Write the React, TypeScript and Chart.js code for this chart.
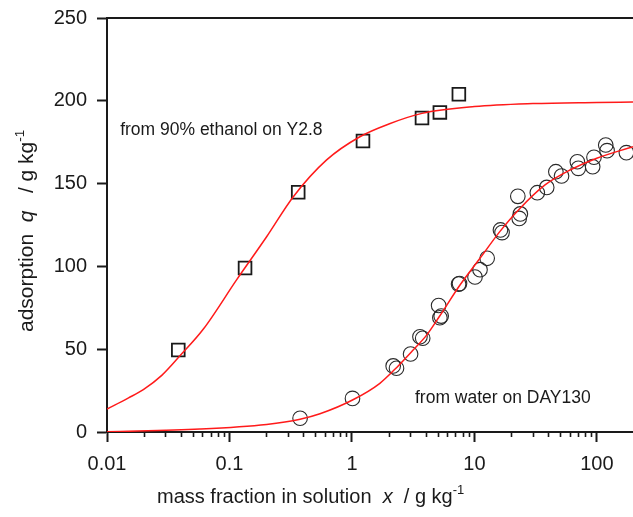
import { useEffect, useRef } from 'react';
import { Chart, registerables } from 'chart.js';

Chart.register(...registerables);

// ---- data ----
const ethanolX = [0.0382, 0.134, 0.364, 1.23, 3.73, 5.22, 7.46];
const ethanolQ = [49.5, 99, 144.8, 175.7, 189.6, 193, 204];

const waterX = [0.377, 1.01, 2.17, 2.31, 3.01, 3.59, 3.78, 5.1, 5.22, 5.35, 7.42, 7.55, 10.1, 11.1, 12.7, 16.3, 16.8, 22.6, 23.2, 23.7, 32.6, 38.9, 46.2, 51.4, 69.2, 70.5, 92.3, 94.6, 118, 121, 174];
const waterQ = [8.3, 20.3, 39.9, 38.5, 47.1, 57.5, 56.6, 76.4, 69.0, 70.0, 89.3, 89.6, 93.6, 98.0, 104.9, 122, 120.4, 142.3, 129.0, 131.7, 144.5, 147.7, 157.2, 154.6, 163.2, 159.2, 160.2, 165.9, 173.3, 169.9, 168.7];

const ethanolFitX = [0.01, 0.015, 0.0198, 0.028, 0.0394, 0.061, 0.1146, 0.201, 0.332, 0.621, 1.16, 2.0, 3.73, 10, 30, 100, 197];
const ethanolFitQ = [13.9, 20.6, 25.6, 34.2, 46.0, 62.0, 92.0, 117.9, 142.1, 164.3, 178.3, 186, 192.4, 196.5, 198.3, 199, 199.3];

const waterFitX = [0.01, 0.0574, 0.201, 0.377, 0.548, 1.01, 1.69, 2.32, 3.16, 4.07, 5.22, 7.62, 11.1, 16.1, 23.5, 37.7, 60.3, 99.6, 197];
const waterFitQ = [0.2, 1.8, 4.6, 7.7, 11.0, 19.3, 29.4, 39, 49.5, 58.5, 70.2, 88.8, 104.9, 121, 135, 149.2, 158.2, 165.3, 172.3];

const xMajorTicks = [0.01, 0.1, 1, 10, 100];
const xMinorMultipliers = [2, 3, 4, 5, 6, 7, 8, 9];
const yTickValues = [0, 50, 100, 150, 200, 250];
const X_MIN = 0.01;
const X_MAX = 197;
const Y_MIN = 0;
const Y_MAX = 250;

const ethanolLabel = 'from 90% ethanol on Y2.8';
const ethanolLabelAt = [0.0128, 182];
const waterLabel = 'from water on DAY130';
const waterLabelAt = [3.27, 20.7];

const FONT = "'Liberation Sans', Arial, Helvetica, sans-serif";
const INK = '#1a1a1a';

const toPoints = (xs: number[], ys: number[]) => xs.map((x, i) => ({ x, y: ys[i] }));

const minorTicks: number[] = [];
xMajorTicks.forEach((d) => {
  xMinorMultipliers.forEach((m) => {
    const v = d * m;
    if (v <= X_MAX) minorTicks.push(v);
  });
});

type Seg = { t: string; font: string; dy?: number };

function drawRich(ctx: CanvasRenderingContext2D, segs: Seg[], x: number, y: number) {
  let cx = x;
  segs.forEach((s) => {
    ctx.font = s.font;
    ctx.fillText(s.t, cx, y + (s.dy || 0));
    cx += ctx.measureText(s.t).width;
  });
}

const decorPlugin = {
  id: 'decor',
  afterDraw(chart: any) {
    const { ctx, chartArea, scales } = chart;
    const xs = scales.x;
    const ys = scales.y;
    ctx.save();
    // top frame line
    ctx.strokeStyle = INK;
    ctx.lineWidth = 2;
    ctx.beginPath();
    ctx.moveTo(chartArea.left - 1, chartArea.top);
    ctx.lineTo(chartArea.right, chartArea.top);
    ctx.stroke();
    // minor ticks
    ctx.lineWidth = 1.6;
    minorTicks.forEach((v) => {
      const px = Math.round(xs.getPixelForValue(v)) + 0.5;
      ctx.beginPath();
      ctx.moveTo(px, chartArea.bottom);
      ctx.lineTo(px, chartArea.bottom + 5);
      ctx.stroke();
    });
    // annotations
    ctx.fillStyle = INK;
    ctx.textBaseline = 'middle';
    ctx.textAlign = 'left';
    ctx.font = `17.5px ${FONT}`;
    ctx.fillText(ethanolLabel, xs.getPixelForValue(ethanolLabelAt[0]), ys.getPixelForValue(ethanolLabelAt[1]));
    ctx.fillText(waterLabel, xs.getPixelForValue(waterLabelAt[0]), ys.getPixelForValue(waterLabelAt[1]));
    // axis titles
    ctx.textBaseline = 'alphabetic';
    drawRich(ctx, [
      { t: 'mass fraction in solution  ', font: `20px ${FONT}` },
      { t: 'x', font: `italic 20px ${FONT}` },
      { t: '  / g kg', font: `20px ${FONT}` },
      { t: '-1', font: `13px ${FONT}`, dy: -9 },
    ], 157, 503);
    ctx.save();
    ctx.translate(33, 332);
    ctx.rotate(-Math.PI / 2);
    drawRich(ctx, [
      { t: 'adsorption  ', font: `21px ${FONT}` },
      { t: 'q', font: `italic 21px ${FONT}` },
      { t: '   / g kg', font: `21px ${FONT}` },
      { t: '-1', font: `13.5px ${FONT}`, dy: -9.5 },
    ], 0, 0);
    ctx.restore();
    ctx.restore();
  },
};

export default function App() {
  const ref = useRef<HTMLCanvasElement>(null);
  useEffect(() => {
    const canvas = ref.current;
    if (!canvas) return;
    Chart.defaults.color = INK;
    const chart = new Chart(canvas, {
      type: 'scatter',
      data: {
        datasets: [
          {
            data: toPoints(ethanolFitX, ethanolFitQ),
            showLine: true,
            borderColor: '#ff1a1a',
            borderWidth: 1.5,
            pointRadius: 0,
            cubicInterpolationMode: 'monotone',
            fill: false,
          },
          {
            data: toPoints(waterFitX, waterFitQ),
            showLine: true,
            borderColor: '#ff1a1a',
            borderWidth: 1.5,
            pointRadius: 0,
            cubicInterpolationMode: 'monotone',
            fill: false,
          },
          {
            data: toPoints(ethanolX, ethanolQ),
            showLine: false,
            pointStyle: 'rect',
            pointRadius: 9,
            pointBorderWidth: 1.8,
            pointBorderColor: '#1a1a1a',
            pointBackgroundColor: 'rgba(0,0,0,0)',
          },
          {
            data: toPoints(waterX, waterQ),
            showLine: false,
            pointStyle: 'circle',
            pointRadius: 7.3,
            pointBorderWidth: 1.1,
            pointBorderColor: '#2a2a2a',
            pointBackgroundColor: 'rgba(0,0,0,0)',
          },
        ] as any,
      },
      options: {
        responsive: false,
        maintainAspectRatio: false,
        devicePixelRatio: 1,
        animation: false,
        layout: { autoPadding: false, padding: { top: 18, left: 0, right: 0, bottom: 0 } },
        plugins: { legend: { display: false }, tooltip: { enabled: false } },
        scales: {
          x: {
            type: 'logarithmic',
            min: X_MIN,
            max: X_MAX,
            afterBuildTicks: (scale: any) => {
              const all = [...xMajorTicks, ...minorTicks].sort((a, b) => a - b);
              scale.ticks = all.map((v) => ({ value: v, major: xMajorTicks.includes(v) }));
            },
            afterFit: (scale: any) => {
              scale.height = 85;
              scale.paddingLeft = 0;
              scale.paddingRight = 0;
            },
            ticks: {
              autoSkip: false,
              maxRotation: 0,
              minRotation: 0,
              padding: 10,
              color: INK,
              font: { family: FONT, size: 20 },
              callback: (_v: any, i: number, ticks: any[]) => {
                const t = ticks[i];
                return t && t.major ? String(t.value) : '';
              },
            },
            grid: {
              display: true,
              drawOnChartArea: false,
              drawTicks: true,
              tickLength: 10,
              tickWidth: 2,
              tickColor: (c: any) => (c.tick && c.tick.major ? INK : 'rgba(0,0,0,0)'),
            },
            border: { display: true, color: INK, width: 2 },
          },
          y: {
            type: 'linear',
            min: Y_MIN,
            max: Y_MAX,
            afterBuildTicks: (scale: any) => {
              scale.ticks = yTickValues.map((v) => ({ value: v }));
            },
            afterFit: (scale: any) => {
              scale.width = 107;
              scale.paddingTop = 0;
              scale.paddingBottom = 0;
            },
            ticks: {
              padding: 10,
              color: INK,
              font: { family: FONT, size: 20 },
            },
            grid: {
              display: true,
              drawOnChartArea: false,
              drawTicks: true,
              tickLength: 10,
              tickWidth: 2,
              tickColor: INK,
            },
            border: { display: true, color: INK, width: 2 },
          },
        },
      } as any,
      plugins: [decorPlugin],
    });
    return () => chart.destroy();
  }, []);
  return (
    <div style={{ position: 'fixed', left: 0, top: 0, width: 633, height: 517, background: '#fff' }}>
      <canvas ref={ref} width={633} height={517} style={{ display: 'block', width: 633, height: 517 }} />
    </div>
  );
}
